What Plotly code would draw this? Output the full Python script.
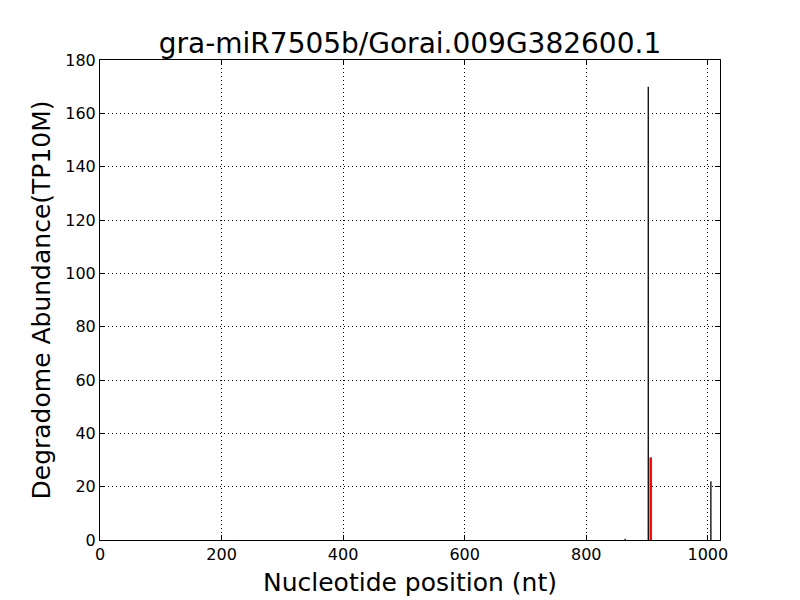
import plotly.graph_objects as go

title = "gra-miR7505b/Gorai.009G382600.1"
black_pos = [864, 902, 1005]
black_val = [0.5, 170, 22]
red_pos = [906]
red_val = [31]
x_max = 1020
y_max = 180

def segs(xs, ys):
    X, Y = [], []
    for x, y in zip(xs, ys):
        X += [x, x, None]
        Y += [0, y, None]
    return X, Y

fig = go.Figure()
bx, by = segs(black_pos, black_val)
fig.add_trace(go.Scatter(x=bx, y=by, mode="lines", line=dict(color="black", width=1.3), hoverinfo="skip"))
rx, ry = segs(red_pos, red_val)
fig.add_trace(go.Scatter(x=rx, y=ry, mode="lines", line=dict(color="red", width=2.5), hoverinfo="skip"))

axis_common = dict(
    showline=True, linecolor="black", linewidth=1, mirror="ticks",
    ticks="inside", ticklen=5, tickcolor="black",
    showgrid=True, gridcolor="black", griddash="1px,3px", gridwidth=1,
    zeroline=False, tickfont=dict(family="DejaVu Sans", size=16, color="black"),
)
fig.update_layout(
    width=800, height=600,
    paper_bgcolor="white", plot_bgcolor="white",
    showlegend=False,
    margin=dict(l=92, r=88, t=52, b=68),
    title=dict(text=title, x=(92 + 310) / 800, xanchor="center", y=1 - 35/600, yref="container", yanchor="middle",
               font=dict(family="DejaVu Sans", size=28, color="black")),
    xaxis=dict(range=[0, x_max], tickvals=[0, 200, 400, 600, 800, 1000],
               title=dict(text="Nucleotide position (nt)", font=dict(family="DejaVu Sans", size=25, color="black"), standoff=10),
               **axis_common),
    yaxis=dict(range=[0, y_max], tickvals=list(range(0, 181, 20)),
               title=dict(text="Degradome Abundance(TP10M)", font=dict(family="DejaVu Sans", size=25, color="black"), standoff=7),
               **axis_common),
)
fig.write_html("out.html")
